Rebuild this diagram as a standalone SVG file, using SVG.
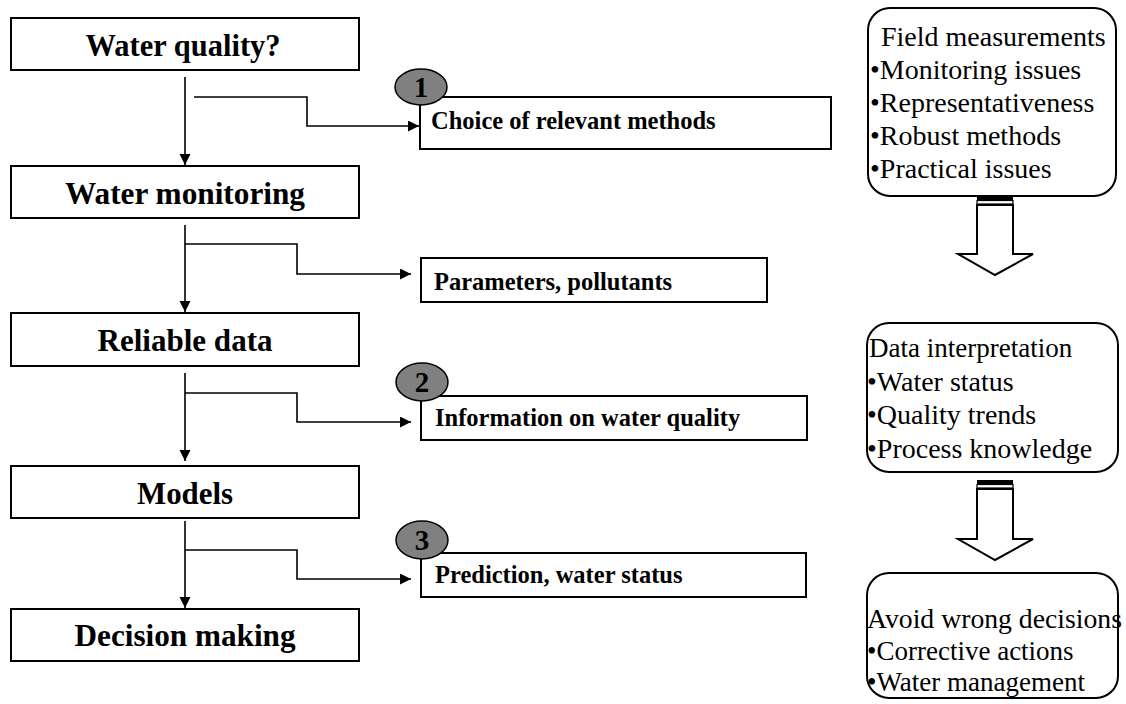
<svg xmlns="http://www.w3.org/2000/svg" width="1126" height="704" viewBox="0 0 1126 704">
<style>
.box{fill:#fff;stroke:#000;stroke-width:2}
.rbox{fill:#fff;stroke:#000;stroke-width:2}
.main{font-family:"Liberation Serif","Times New Roman",serif;font-weight:bold;font-size:32px;text-anchor:middle;fill:#000}
.sub{font-family:"Liberation Serif","Times New Roman",serif;font-weight:bold;font-size:24.5px;fill:#000}
.side{font-family:"Liberation Serif","Times New Roman",serif;font-size:28px;fill:#000}
.side2{font-family:"Liberation Serif","Times New Roman",serif;font-size:27px;fill:#000}
.num{font-family:"Liberation Serif","Times New Roman",serif;font-weight:bold;font-size:29px;text-anchor:middle;fill:#000}
.badge{fill:#808080;stroke:#000;stroke-width:1.5}
.con{fill:none;stroke:#000;stroke-width:1.6}
.blk{fill:#fff;stroke:#000;stroke-width:2}
</style>
<defs>
<marker id="ah" markerUnits="userSpaceOnUse" markerWidth="12" markerHeight="12" refX="11" refY="5.5" orient="auto">
<path d="M0,0 L11,5.5 L0,11 Z" fill="#000"/>
</marker>
</defs>
<rect width="1126" height="704" fill="#fff"/>

<g id="connectors">
<path class="con" d="M185,77 V165" marker-end="url(#ah)"/>
<path class="con" d="M194,97 H307 V126 H419" marker-end="url(#ah)"/>
<path class="con" d="M185,225 V312" marker-end="url(#ah)"/>
<path class="con" d="M185,244 H297 V274 H411" marker-end="url(#ah)"/>
<path class="con" d="M185,373 V461" marker-end="url(#ah)"/>
<path class="con" d="M185,393 H297 V422 H411" marker-end="url(#ah)"/>
<path class="con" d="M185,521 V608" marker-end="url(#ah)"/>
<path class="con" d="M185,550 H297 V579 H411" marker-end="url(#ah)"/>
</g>

<g id="n-water-quality">
<rect class="box" x="11" y="18" width="348" height="52"/>
<text class="main" x="183" y="56" textLength="195" lengthAdjust="spacingAndGlyphs">Water quality?</text>
</g>
<g id="n-water-monitoring">
<rect class="box" x="11" y="166" width="348" height="52"/>
<text class="main" x="185" y="204" textLength="240" lengthAdjust="spacingAndGlyphs">Water monitoring</text>
</g>
<g id="n-reliable-data">
<rect class="box" x="11" y="313" width="348" height="53"/>
<text class="main" x="185" y="351" textLength="175" lengthAdjust="spacingAndGlyphs">Reliable data</text>
</g>
<g id="n-models">
<rect class="box" x="11" y="466" width="348" height="52"/>
<text class="main" x="185" y="504" textLength="96" lengthAdjust="spacingAndGlyphs">Models</text>
</g>
<g id="n-decision-making">
<rect class="box" x="11" y="609" width="348" height="52"/>
<text class="main" x="185" y="646" textLength="221" lengthAdjust="spacingAndGlyphs">Decision making</text>
</g>

<g id="n-choice">
<rect class="box" x="420" y="97" width="411" height="52"/>
<text class="sub" x="431" y="129">Choice of relevant methods</text>
<ellipse class="badge" cx="421" cy="87" rx="26" ry="18"/>
<text class="num" x="421" y="97">1</text>
</g>
<g id="n-parameters">
<rect class="box" x="421" y="258" width="346" height="44"/>
<text class="sub" x="434" y="290">Parameters, pollutants</text>
</g>
<g id="n-information">
<rect class="box" x="421" y="396" width="386" height="44"/>
<text class="sub" x="435" y="426">Information on water quality</text>
<ellipse class="badge" cx="422" cy="382" rx="26" ry="19"/>
<text class="num" x="422" y="392">2</text>
</g>
<g id="n-prediction">
<rect class="box" x="421" y="553" width="385" height="44"/>
<text class="sub" x="435" y="583">Prediction, water status</text>
<ellipse class="badge" cx="422" cy="540" rx="26" ry="19"/>
<text class="num" x="422" y="550">3</text>
</g>

<g id="n-field">
<rect class="rbox" x="868" y="8" width="248" height="188" rx="22" ry="22"/>
<text class="side" x="881" y="46">Field measurements</text>
<text class="side" x="870" y="79">•Monitoring issues</text>
<text class="side" x="870" y="112">•Representativeness</text>
<text class="side" x="870" y="145">•Robust methods</text>
<text class="side" x="870" y="178">•Practical issues</text>
</g>
<g id="arrow-1">
<rect x="977" y="196" width="36" height="4" fill="#000"/>
<rect x="977" y="200.5" width="36" height="3.5" fill="#fff" stroke="#000" stroke-width="1.2"/>
<path class="blk" d="M977,205 H1013 V254 H1033 L995,275 L958,254 H977 Z"/>
</g>
<g id="n-interpretation">
<rect class="rbox" x="867" y="323" width="251" height="149" rx="22" ry="22"/>
<text class="side2" x="869" y="357">Data interpretation</text>
<text class="side" x="867" y="391">•Water status</text>
<text class="side" x="867" y="424">•Quality trends</text>
<text class="side" x="867" y="458">•Process knowledge</text>
</g>
<g id="arrow-2">
<rect x="977" y="480" width="36" height="4" fill="#000"/>
<rect x="977" y="484.5" width="36" height="3.5" fill="#fff" stroke="#000" stroke-width="1.2"/>
<path class="blk" d="M977,489 H1013 V539 H1033 L995,560 L958,539 H977 Z"/>
</g>
<g id="n-decisions">
<rect class="rbox" x="867" y="573" width="251" height="125" rx="22" ry="22"/>
<text class="side2" x="867" y="628" textLength="255" lengthAdjust="spacingAndGlyphs">Avoid wrong decisions</text>
<text class="side2" x="867" y="660">•Corrective actions</text>
<text class="side2" x="867" y="691">•Water management</text>
</g>
</svg>
